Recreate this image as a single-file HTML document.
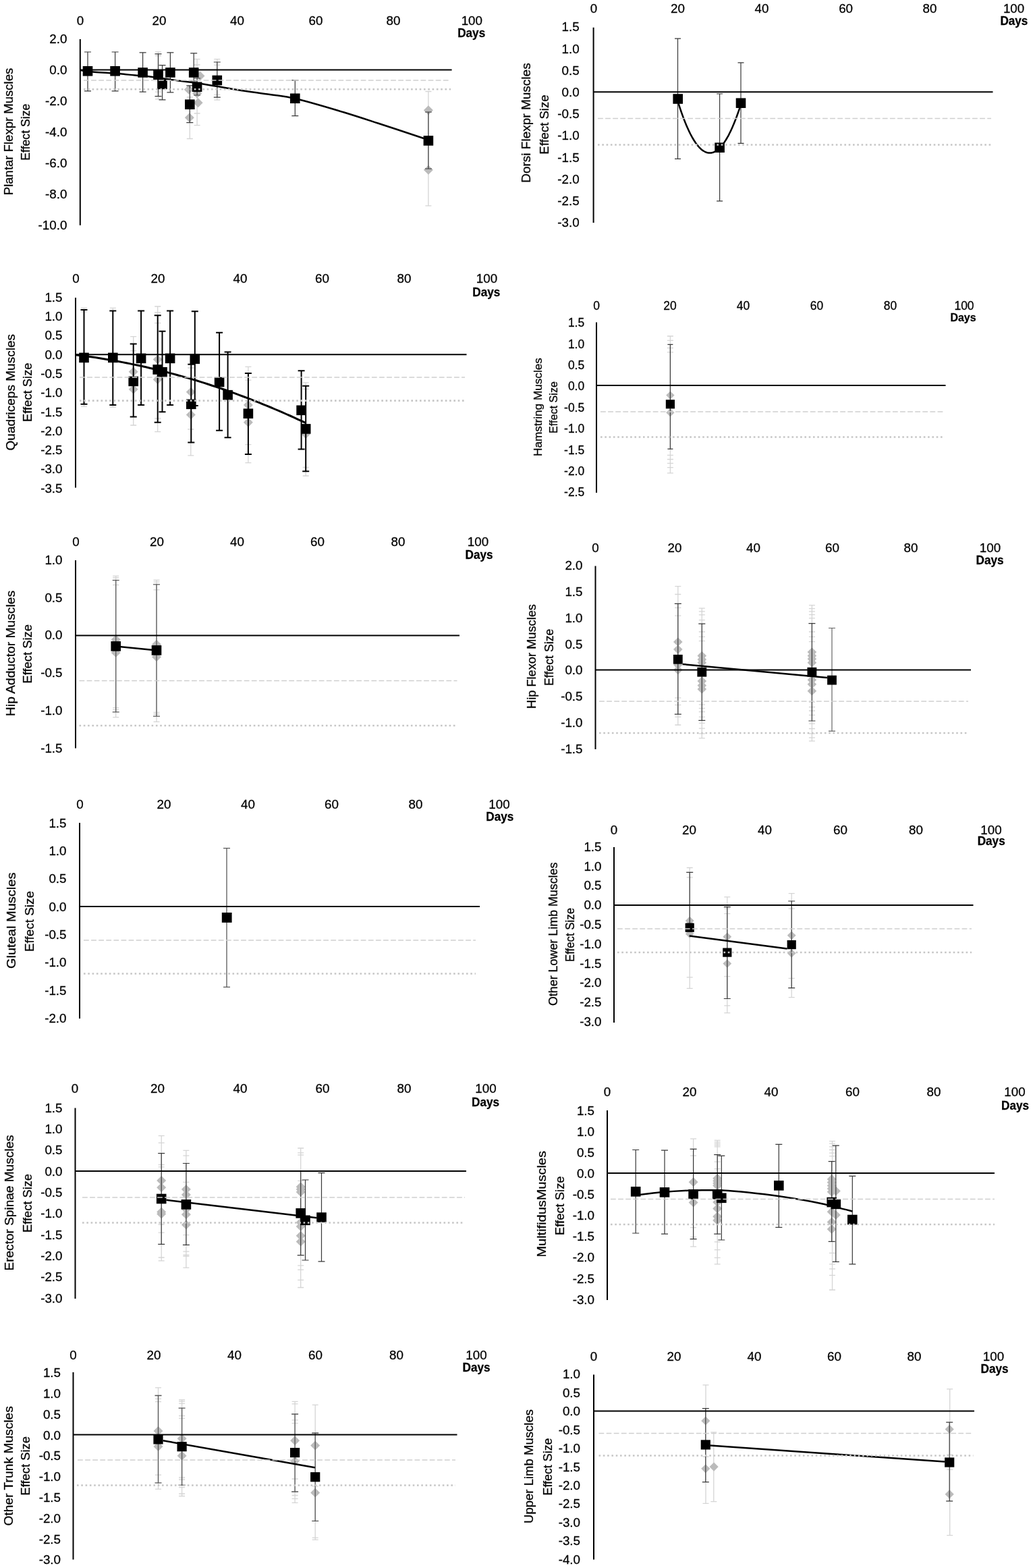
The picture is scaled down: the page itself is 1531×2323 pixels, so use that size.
<!DOCTYPE html>
<html><head><meta charset="utf-8"><title>Effect size over days</title>
<style>html,body{margin:0;padding:0;background:#fff;}svg{display:block;} text{stroke:#000;stroke-width:0.28px;paint-order:stroke;}</style></head>
<body><svg width="1531" height="2323" viewBox="0 0 1531 2323" font-family="'Liberation Sans', Arial, sans-serif" fill="#000">
<rect width="1531" height="2323" fill="#fff"/>
<text x="119.0" y="37.4" text-anchor="middle" font-size="18.80">0</text>
<text x="236.0" y="37.4" text-anchor="middle" font-size="18.80">20</text>
<text x="351.5" y="37.4" text-anchor="middle" font-size="18.80">40</text>
<text x="468.0" y="37.4" text-anchor="middle" font-size="18.80">60</text>
<text x="583.0" y="37.4" text-anchor="middle" font-size="18.80">80</text>
<text x="699.3" y="37.4" text-anchor="middle" font-size="18.80">100</text>
<text x="698.7" y="54.5" text-anchor="middle" font-size="18.00" font-weight="bold" textLength="41.0" lengthAdjust="spacingAndGlyphs">Days</text>
<text x="99.4" y="63.5" text-anchor="end" font-size="18.80">2.0</text>
<text x="99.4" y="109.5" text-anchor="end" font-size="18.80">0.0</text>
<text x="99.4" y="155.5" text-anchor="end" font-size="18.80">-2.0</text>
<text x="99.4" y="201.5" text-anchor="end" font-size="18.80">-4.0</text>
<text x="99.4" y="247.5" text-anchor="end" font-size="18.80">-6.0</text>
<text x="99.4" y="293.5" text-anchor="end" font-size="18.80">-8.0</text>
<text x="99.4" y="339.5" text-anchor="end" font-size="18.80">-10.0</text>
<text transform="translate(19.0,195.0) rotate(-90)" text-anchor="middle" font-size="18.30" textLength="188.4" lengthAdjust="spacingAndGlyphs">Plantar Flexpr Muscles</text>
<text transform="translate(44.3,195.7) rotate(-90)" text-anchor="middle" font-size="18.30" textLength="84.0" lengthAdjust="spacingAndGlyphs">Effect Size</text>
<path d="M234.5 76.9V146.9M230.0 76.9h9M230.0 146.9h9M230.0 82.7h9M230.0 136.1h9" stroke="#d5d5d5" stroke-width="1.3" fill="none"/>
<path d="M292.1 87.6V185.6M287.6 87.6h9M287.6 185.6h9M287.6 96.0h9M287.6 168.0h9" stroke="#d5d5d5" stroke-width="1.3" fill="none"/>
<path d="M321.8 87.6V148.1M317.3 87.6h9M317.3 148.1h9M317.3 96.3h9M317.3 140.3h9" stroke="#d5d5d5" stroke-width="1.3" fill="none"/>
<path d="M281.3 144.0V205.5M276.8 144.0h9M276.8 205.5h9" stroke="#d5d5d5" stroke-width="1.3" fill="none"/>
<path d="M634.9 135.5V304.8M630.4 135.5h9M630.4 304.8h9" stroke="#d5d5d5" stroke-width="1.3" fill="none"/>
<path d="M279.8 125.7L286.8 132.7L279.8 139.7L272.8 132.7Z" fill="#bbbbbb"/>
<path d="M280.8 167.3L287.8 174.3L280.8 181.3L273.8 174.3Z" fill="#bbbbbb"/>
<path d="M296.5 105.6L303.5 112.6L296.5 119.6L289.5 112.6Z" fill="#bbbbbb"/>
<path d="M292.1 131.6L299.1 138.6L292.1 145.6L285.1 138.6Z" fill="#bbbbbb"/>
<path d="M293.6 145.3L300.6 152.3L293.6 159.3L286.6 152.3Z" fill="#bbbbbb"/>
<path d="M634.9 156.2L641.9 163.2L634.9 170.2L627.9 163.2Z" fill="#bbbbbb"/>
<path d="M634.9 244.7L641.9 251.7L634.9 258.7L627.9 251.7Z" fill="#bbbbbb"/>
<path d="M130.0 77.0V134.9M125.0 77.0h10M125.0 134.9h10" stroke="#383838" stroke-width="1.2" fill="none"/>
<path d="M170.6 77.0V134.9M165.6 77.0h10M165.6 134.9h10" stroke="#383838" stroke-width="1.2" fill="none"/>
<path d="M211.6 77.8V136.1M206.6 77.8h10M206.6 136.1h10" stroke="#383838" stroke-width="1.2" fill="none"/>
<path d="M234.5 79.8V142.7M229.5 79.8h10M229.5 142.7h10" stroke="#383838" stroke-width="1.2" fill="none"/>
<path d="M240.5 96.6V147.9M235.5 96.6h10M235.5 147.9h10" stroke="#383838" stroke-width="1.2" fill="none"/>
<path d="M252.4 77.8V136.8M247.4 77.8h10M247.4 136.8h10" stroke="#383838" stroke-width="1.2" fill="none"/>
<path d="M287.2 78.8V120.0M282.2 78.8h10M282.2 120.0h10" stroke="#383838" stroke-width="1.2" fill="none"/>
<path d="M292.1 116.0V141.0M287.1 116.0h10M287.1 141.0h10" stroke="#383838" stroke-width="1.2" fill="none"/>
<path d="M281.3 126.8V181.7M276.3 126.8h10M276.3 181.7h10" stroke="#383838" stroke-width="1.2" fill="none"/>
<path d="M321.8 92.0V144.2M316.8 92.0h10M316.8 144.2h10" stroke="#383838" stroke-width="1.2" fill="none"/>
<path d="M437.3 118.9V171.7M432.3 118.9h10M432.3 171.7h10" stroke="#383838" stroke-width="1.2" fill="none"/>
<path d="M634.9 166.0V250.0M629.9 166.0h10M629.9 250.0h10" stroke="#383838" stroke-width="1.2" fill="none"/>
<path d="M119.0 104.0 C122.1 104.4 130.7 105.9 137.5 106.6 C144.3 107.3 153.2 107.5 160.0 108.0 C166.8 108.5 171.3 108.7 178.0 109.3 C184.7 109.9 193.0 110.9 200.0 111.6 C207.0 112.2 209.4 111.9 220.0 113.2 C230.6 114.5 250.7 117.7 263.7 119.5 C276.7 121.3 283.6 121.7 298.0 123.9 C312.4 126.1 332.9 130.0 349.9 132.7 C366.9 135.4 385.4 137.8 400.0 140.0 C414.6 142.2 420.6 142.1 437.3 146.0 C454.0 149.9 479.6 157.4 500.0 163.5 C520.5 169.6 538.7 175.6 560.0 182.5 C581.3 189.4 616.7 201.2 628.0 205.0" stroke="#000" stroke-width="2.5" fill="none" stroke-linejoin="round"/>
<rect x="122.7" y="98.0" width="14.6" height="14.6" fill="#000"/>
<rect x="163.3" y="98.0" width="14.6" height="14.6" fill="#000"/>
<rect x="204.3" y="100.2" width="14.6" height="14.6" fill="#000"/>
<rect x="227.2" y="103.4" width="14.6" height="14.6" fill="#000"/>
<rect x="233.2" y="117.6" width="14.6" height="14.6" fill="#000"/>
<rect x="245.1" y="100.2" width="14.6" height="14.6" fill="#000"/>
<rect x="279.9" y="100.2" width="14.6" height="14.6" fill="#000"/>
<rect x="284.8" y="121.5" width="14.6" height="14.6" fill="#000"/>
<rect x="274.0" y="147.4" width="14.6" height="14.6" fill="#000"/>
<rect x="314.5" y="111.7" width="14.6" height="14.6" fill="#000"/>
<rect x="430.0" y="138.5" width="14.6" height="14.6" fill="#000"/>
<rect x="627.6" y="201.1" width="14.6" height="14.6" fill="#000"/>
<path d="M124.0 119.1H667.7" stroke="#cfcfcf" stroke-width="1.5" stroke-dasharray="7.8 3.3"/>
<path d="M124.0 132.2H668.0" stroke="#c6c6c6" stroke-width="2.6" stroke-dasharray="2.6 3.7"/>
<path d="M118.8 58.0V333.8" stroke="#000" stroke-width="2"/>
<path d="M118.8 103.5H669.6" stroke="#000" stroke-width="2.1"/>
<text x="880.0" y="18.6" text-anchor="middle" font-size="18.80">0</text>
<text x="1004.5" y="18.6" text-anchor="middle" font-size="18.80">20</text>
<text x="1129.0" y="18.6" text-anchor="middle" font-size="18.80">40</text>
<text x="1253.6" y="18.6" text-anchor="middle" font-size="18.80">60</text>
<text x="1378.0" y="18.6" text-anchor="middle" font-size="18.80">80</text>
<text x="1502.6" y="18.6" text-anchor="middle" font-size="18.80">100</text>
<text x="1502.9" y="37.2" text-anchor="middle" font-size="18.00" font-weight="bold" textLength="41.0" lengthAdjust="spacingAndGlyphs">Days</text>
<text x="858.6" y="46.3" text-anchor="end" font-size="18.80">1.5</text>
<text x="858.6" y="78.5" text-anchor="end" font-size="18.80">1.0</text>
<text x="858.6" y="110.7" text-anchor="end" font-size="18.80">0.5</text>
<text x="858.6" y="142.9" text-anchor="end" font-size="18.80">0.0</text>
<text x="858.6" y="175.1" text-anchor="end" font-size="18.80">-0.5</text>
<text x="858.6" y="207.3" text-anchor="end" font-size="18.80">-1.0</text>
<text x="858.6" y="239.5" text-anchor="end" font-size="18.80">-1.5</text>
<text x="858.6" y="271.7" text-anchor="end" font-size="18.80">-2.0</text>
<text x="858.6" y="303.9" text-anchor="end" font-size="18.80">-2.5</text>
<text x="858.6" y="336.1" text-anchor="end" font-size="18.80">-3.0</text>
<text transform="translate(786.0,182.1) rotate(-90)" text-anchor="middle" font-size="18.30" textLength="177.5" lengthAdjust="spacingAndGlyphs">Dorsi Flexpr Muscles</text>
<text transform="translate(812.6,184.6) rotate(-90)" text-anchor="middle" font-size="18.30" textLength="88.3" lengthAdjust="spacingAndGlyphs">Effect Size</text>
<path d="M1004.5 57.2V235.4M1000.0 57.2h9M1000.0 235.4h9" stroke="#383838" stroke-width="1.2" fill="none"/>
<path d="M1066.6 139.0V297.9M1062.1 139.0h9M1062.1 297.9h9" stroke="#383838" stroke-width="1.2" fill="none"/>
<path d="M1098.0 92.9V212.4M1093.5 92.9h9M1093.5 212.4h9" stroke="#383838" stroke-width="1.2" fill="none"/>
<path d="M1005.5 153.1 L1006.4 155.9 L1007.3 158.7 L1008.2 161.4 L1009.1 164.0 L1010.0 166.6 L1010.9 169.2 L1011.8 171.7 L1012.7 174.1 L1013.6 176.5 L1014.5 178.8 L1015.4 181.1 L1016.3 183.3 L1017.2 185.4 L1018.1 187.5 L1019.0 189.6 L1019.9 191.6 L1020.8 193.5 L1021.7 195.4 L1022.6 197.2 L1023.5 199.0 L1024.4 200.7 L1025.3 202.4 L1026.2 204.0 L1027.1 205.5 L1028.0 207.0 L1028.9 208.5 L1029.8 209.8 L1030.7 211.2 L1031.6 212.5 L1032.5 213.7 L1033.4 214.8 L1034.3 215.9 L1035.2 217.0 L1036.1 218.0 L1037.0 218.9 L1037.9 219.8 L1038.8 220.7 L1039.7 221.5 L1040.6 222.2 L1041.5 222.9 L1042.4 223.5 L1043.3 224.0 L1044.2 224.5 L1045.1 225.0 L1046.0 225.4 L1046.9 225.7 L1047.8 226.0 L1048.7 226.2 L1049.6 226.4 L1050.5 226.5 L1051.4 226.6 L1052.3 226.6 L1053.2 226.6 L1054.1 226.5 L1055.0 226.3 L1055.9 226.1 L1056.8 225.8 L1057.7 225.5 L1058.6 225.1 L1059.5 224.7 L1060.4 224.2 L1061.3 223.7 L1062.2 223.1 L1063.1 222.4 L1064.0 221.7 L1064.9 220.9 L1065.8 220.1 L1066.7 219.3 L1067.6 218.3 L1068.5 217.3 L1069.4 216.3 L1070.3 215.2 L1071.2 214.1 L1072.1 212.9 L1073.0 211.6 L1073.9 210.3 L1074.8 208.9 L1075.7 207.5 L1076.6 206.0 L1077.5 204.5 L1078.4 202.9 L1079.3 201.3 L1080.2 199.6 L1081.1 197.8 L1082.0 196.0 L1082.9 194.1 L1083.8 192.2 L1084.7 190.2 L1085.6 188.2 L1086.5 186.1 L1087.4 184.0 L1088.3 181.8 L1089.2 179.5 L1090.1 177.2 L1091.0 174.9 L1091.9 172.5 L1092.8 170.0 L1093.7 167.5 L1094.6 164.9 L1095.5 162.3 L1096.4 159.6 L1097.3 156.8" stroke="#000" stroke-width="2.5" fill="none" stroke-linejoin="round"/>
<rect x="997.4" y="139.2" width="14.6" height="14.6" fill="#000"/>
<rect x="1059.3" y="211.4" width="14.6" height="14.6" fill="#000"/>
<rect x="1090.7" y="145.4" width="14.6" height="14.6" fill="#000"/>
<path d="M886.0 175.5H1469.0" stroke="#cfcfcf" stroke-width="1.5" stroke-dasharray="7.8 3.3"/>
<path d="M886.0 214.5H1469.0" stroke="#c6c6c6" stroke-width="2.6" stroke-dasharray="2.6 3.7"/>
<path d="M879.6 40.8V330.0" stroke="#000" stroke-width="2"/>
<path d="M879.6 136.3H1471.5" stroke="#000" stroke-width="2.1"/>
<text x="112.5" y="419.2" text-anchor="middle" font-size="18.80">0</text>
<text x="234.0" y="419.2" text-anchor="middle" font-size="18.80">20</text>
<text x="356.0" y="419.2" text-anchor="middle" font-size="18.80">40</text>
<text x="477.5" y="419.2" text-anchor="middle" font-size="18.80">60</text>
<text x="599.0" y="419.2" text-anchor="middle" font-size="18.80">80</text>
<text x="721.5" y="419.2" text-anchor="middle" font-size="18.80">100</text>
<text x="720.8" y="438.9" text-anchor="middle" font-size="18.00" font-weight="bold" textLength="41.0" lengthAdjust="spacingAndGlyphs">Days</text>
<text x="92.5" y="446.7" text-anchor="end" font-size="18.80">1.5</text>
<text x="92.5" y="475.0" text-anchor="end" font-size="18.80">1.0</text>
<text x="92.5" y="503.3" text-anchor="end" font-size="18.80">0.5</text>
<text x="92.5" y="531.6" text-anchor="end" font-size="18.80">0.0</text>
<text x="92.5" y="559.9" text-anchor="end" font-size="18.80">-0.5</text>
<text x="92.5" y="588.2" text-anchor="end" font-size="18.80">-1.0</text>
<text x="92.5" y="616.5" text-anchor="end" font-size="18.80">-1.5</text>
<text x="92.5" y="644.8" text-anchor="end" font-size="18.80">-2.0</text>
<text x="92.5" y="673.1" text-anchor="end" font-size="18.80">-2.5</text>
<text x="92.5" y="701.4" text-anchor="end" font-size="18.80">-3.0</text>
<text x="92.5" y="729.7" text-anchor="end" font-size="18.80">-3.5</text>
<text transform="translate(22.0,581.2) rotate(-90)" text-anchor="middle" font-size="18.30" textLength="172.5" lengthAdjust="spacingAndGlyphs">Quadriceps Muscles</text>
<text transform="translate(46.5,581.2) rotate(-90)" text-anchor="middle" font-size="18.30" textLength="87.5" lengthAdjust="spacingAndGlyphs">Effect Size</text>
<path d="M124.5 456.4V602.3M120.0 456.4h9M120.0 602.3h9M120.0 461.7h9" stroke="#d5d5d5" stroke-width="1.3" fill="none"/>
<path d="M167.3 456.4V603.0M162.8 456.4h9M162.8 603.0h9" stroke="#d5d5d5" stroke-width="1.3" fill="none"/>
<path d="M197.7 498.7V630.0M193.2 498.7h9M193.2 630.0h9M193.2 519.7h9" stroke="#d5d5d5" stroke-width="1.3" fill="none"/>
<path d="M233.7 454.0V639.7M229.2 454.0h9M229.2 639.7h9M229.2 463.0h9M229.2 478.7h9M229.2 620.0h9" stroke="#d5d5d5" stroke-width="1.3" fill="none"/>
<path d="M282.8 545.0V674.8M278.3 545.0h9M278.3 674.8h9M278.3 636.0h9" stroke="#d5d5d5" stroke-width="1.3" fill="none"/>
<path d="M367.9 543.4V685.7M363.4 543.4h9M363.4 685.7h9M363.4 563.2h9M363.4 658.6h9" stroke="#d5d5d5" stroke-width="1.3" fill="none"/>
<path d="M453.2 566.9V705.0M448.7 566.9h9M448.7 705.0h9M448.7 576.5h9M448.7 692.4h9" stroke="#d5d5d5" stroke-width="1.3" fill="none"/>
<path d="M197.7 543.7L204.7 550.7L197.7 557.7L190.7 550.7Z" fill="#bbbbbb"/>
<path d="M197.7 569.7L204.7 576.7L197.7 583.7L190.7 576.7Z" fill="#bbbbbb"/>
<path d="M233.7 525.6L240.7 532.6L233.7 539.6L226.7 532.6Z" fill="#bbbbbb"/>
<path d="M233.7 555.2L240.7 562.2L233.7 569.2L226.7 562.2Z" fill="#bbbbbb"/>
<path d="M282.8 573.7L289.8 580.7L282.8 587.7L275.8 580.7Z" fill="#bbbbbb"/>
<path d="M282.8 607.4L289.8 614.4L282.8 621.4L275.8 614.4Z" fill="#bbbbbb"/>
<path d="M367.9 593.0L374.9 600.0L367.9 607.0L360.9 600.0Z" fill="#bbbbbb"/>
<path d="M367.9 618.7L374.9 625.7L367.9 632.7L360.9 625.7Z" fill="#bbbbbb"/>
<path d="M453.2 636.0L460.2 643.0L453.2 650.0L446.2 643.0Z" fill="#bbbbbb"/>
<path d="M124.5 458.9V598.7M119.5 458.9h10M119.5 598.7h10" stroke="#000" stroke-width="2" fill="none"/>
<path d="M167.3 460.5V599.9M162.3 460.5h10M162.3 599.9h10" stroke="#000" stroke-width="2" fill="none"/>
<path d="M197.7 509.4V617.5M192.7 509.4h10M192.7 617.5h10" stroke="#000" stroke-width="2" fill="none"/>
<path d="M209.1 460.5V599.9M204.1 460.5h10M204.1 599.9h10" stroke="#000" stroke-width="2" fill="none"/>
<path d="M233.7 467.3V625.7M228.7 467.3h10M228.7 625.7h10" stroke="#000" stroke-width="2" fill="none"/>
<path d="M240.5 490.7V610.3M235.5 490.7h10M235.5 610.3h10" stroke="#000" stroke-width="2" fill="none"/>
<path d="M252.1 460.5V599.9M247.1 460.5h10M247.1 599.9h10" stroke="#000" stroke-width="2" fill="none"/>
<path d="M283.3 539.8V655.5M278.3 539.8h10M278.3 655.5h10" stroke="#000" stroke-width="2" fill="none"/>
<path d="M288.8 461.3V601.0M283.8 461.3h10M283.8 601.0h10" stroke="#000" stroke-width="2" fill="none"/>
<path d="M325.1 492.7V637.8M320.1 492.7h10M320.1 637.8h10" stroke="#000" stroke-width="2" fill="none"/>
<path d="M337.6 521.4V648.2M332.6 521.4h10M332.6 648.2h10" stroke="#000" stroke-width="2" fill="none"/>
<path d="M367.9 552.9V672.9M362.9 552.9h10M362.9 672.9h10" stroke="#000" stroke-width="2" fill="none"/>
<path d="M446.6 549.2V665.6M441.6 549.2h10M441.6 665.6h10" stroke="#000" stroke-width="2" fill="none"/>
<path d="M453.2 571.7V698.2M448.2 571.7h10M448.2 698.2h10" stroke="#000" stroke-width="2" fill="none"/>
<path d="M112.0 525.7 L117.8 526.4 L123.6 527.2 L129.3 528.0 L135.1 528.8 L140.9 529.6 L146.7 530.5 L152.5 531.5 L158.3 532.4 L164.0 533.4 L169.8 534.4 L175.6 535.5 L181.4 536.6 L187.2 537.7 L193.0 538.9 L198.7 540.1 L204.5 541.3 L210.3 542.5 L216.1 543.8 L221.9 545.2 L227.7 546.5 L233.4 547.9 L239.2 549.4 L245.0 550.8 L250.8 552.4 L256.6 553.9 L262.4 555.5 L268.1 557.1 L273.9 558.7 L279.7 560.4 L285.5 562.1 L291.3 563.8 L297.1 565.6 L302.8 567.4 L308.6 569.3 L314.4 571.2 L320.2 573.1 L326.0 575.0 L331.8 577.0 L337.5 579.0 L343.3 581.1 L349.1 583.2 L354.9 585.3 L360.7 587.5 L366.5 589.7 L372.2 591.9 L378.0 594.1 L383.8 596.4 L389.6 598.8 L395.4 601.1 L401.2 603.5 L406.9 606.0 L412.7 608.4 L418.5 610.9 L424.3 613.5 L430.1 616.0 L435.9 618.6 L441.6 621.3 L447.4 623.9 L453.2 626.6" stroke="#000" stroke-width="3.0" fill="none" stroke-linejoin="round"/>
<rect x="117.2" y="522.6" width="14.6" height="14.6" fill="#000"/>
<rect x="160.0" y="522.6" width="14.6" height="14.6" fill="#000"/>
<rect x="190.4" y="557.6" width="14.6" height="14.6" fill="#000"/>
<rect x="201.8" y="523.6" width="14.6" height="14.6" fill="#000"/>
<rect x="226.4" y="540.2" width="14.6" height="14.6" fill="#000"/>
<rect x="233.2" y="543.9" width="14.6" height="14.6" fill="#000"/>
<rect x="244.8" y="523.6" width="14.6" height="14.6" fill="#000"/>
<rect x="276.0" y="591.5" width="14.6" height="14.6" fill="#000"/>
<rect x="281.5" y="524.5" width="14.6" height="14.6" fill="#000"/>
<rect x="317.8" y="558.7" width="14.6" height="14.6" fill="#000"/>
<rect x="330.3" y="577.9" width="14.6" height="14.6" fill="#000"/>
<rect x="360.6" y="605.4" width="14.6" height="14.6" fill="#000"/>
<rect x="439.3" y="600.5" width="14.6" height="14.6" fill="#000"/>
<rect x="445.9" y="628.1" width="14.6" height="14.6" fill="#000"/>
<path d="M118.0 558.9H689.0" stroke="#cfcfcf" stroke-width="1.5" stroke-dasharray="7.8 3.3"/>
<path d="M118.0 593.6H689.0" stroke="#c6c6c6" stroke-width="2.6" stroke-dasharray="2.6 3.7"/>
<path d="M112.0 441.0V722.5" stroke="#000" stroke-width="2"/>
<path d="M112.0 525.3H691.5" stroke="#000" stroke-width="2.1"/>
<text x="884.0" y="459.1" text-anchor="middle" font-size="17.48">0</text>
<text x="993.0" y="459.1" text-anchor="middle" font-size="17.48">20</text>
<text x="1101.5" y="459.1" text-anchor="middle" font-size="17.48">40</text>
<text x="1210.5" y="459.1" text-anchor="middle" font-size="17.48">60</text>
<text x="1319.5" y="459.1" text-anchor="middle" font-size="17.48">80</text>
<text x="1429.0" y="459.1" text-anchor="middle" font-size="17.48">100</text>
<text x="1427.5" y="476.0" text-anchor="middle" font-size="16.74" font-weight="bold" textLength="38.1" lengthAdjust="spacingAndGlyphs">Days</text>
<text x="866.2" y="484.1" text-anchor="end" font-size="17.48">1.5</text>
<text x="866.2" y="515.5" text-anchor="end" font-size="17.48">1.0</text>
<text x="866.2" y="546.9" text-anchor="end" font-size="17.48">0.5</text>
<text x="866.2" y="578.3" text-anchor="end" font-size="17.48">0.0</text>
<text x="866.2" y="609.7" text-anchor="end" font-size="17.48">-0.5</text>
<text x="866.2" y="641.1" text-anchor="end" font-size="17.48">-1.0</text>
<text x="866.2" y="672.5" text-anchor="end" font-size="17.48">-1.5</text>
<text x="866.2" y="703.9" text-anchor="end" font-size="17.48">-2.0</text>
<text x="866.2" y="735.3" text-anchor="end" font-size="17.48">-2.5</text>
<text transform="translate(802.7,603.1) rotate(-90)" text-anchor="middle" font-size="17.02" textLength="145.8" lengthAdjust="spacingAndGlyphs">Hamstring Muscles</text>
<text transform="translate(825.8,603.5) rotate(-90)" text-anchor="middle" font-size="17.02" textLength="76.9" lengthAdjust="spacingAndGlyphs">Effect Size</text>
<path d="M993.4 498.0V700.8M988.9 498.0h9M988.9 700.8h9M988.9 504.4h9M988.9 515.5h9M988.9 521.8h9M988.9 674.4h9M988.9 680.5h9M988.9 686.4h9M988.9 692.7h9" stroke="#d5d5d5" stroke-width="1.3" fill="none"/>
<path d="M993.4 579.4L999.6 585.6L993.4 591.8L987.2 585.6Z" fill="#bbbbbb"/>
<path d="M993.4 605.1L999.6 611.3L993.4 617.5L987.2 611.3Z" fill="#bbbbbb"/>
<path d="M993.4 510.3V665.2M989.4 510.3h8M989.4 665.2h8" stroke="#383838" stroke-width="1.2" fill="none"/>
<rect x="986.8" y="592.2" width="13.2" height="13.2" fill="#000"/>
<path d="M890.0 610.0H1397.5" stroke="#cfcfcf" stroke-width="1.5" stroke-dasharray="7.8 3.3"/>
<path d="M890.0 647.5H1397.5" stroke="#c6c6c6" stroke-width="2.6" stroke-dasharray="2.6 3.7"/>
<path d="M884.0 477.5V730.0" stroke="#000" stroke-width="2"/>
<path d="M884.0 571.0H1401.5" stroke="#000" stroke-width="2.1"/>
<text x="112.5" y="809.2" text-anchor="middle" font-size="18.80">0</text>
<text x="232.5" y="809.2" text-anchor="middle" font-size="18.80">20</text>
<text x="351.5" y="809.2" text-anchor="middle" font-size="18.80">40</text>
<text x="470.5" y="809.2" text-anchor="middle" font-size="18.80">60</text>
<text x="590.0" y="809.2" text-anchor="middle" font-size="18.80">80</text>
<text x="708.5" y="809.2" text-anchor="middle" font-size="18.80">100</text>
<text x="710.0" y="827.9" text-anchor="middle" font-size="18.00" font-weight="bold" textLength="41.0" lengthAdjust="spacingAndGlyphs">Days</text>
<text x="92.5" y="835.7" text-anchor="end" font-size="18.80">1.0</text>
<text x="92.5" y="891.5" text-anchor="end" font-size="18.80">0.5</text>
<text x="92.5" y="947.3" text-anchor="end" font-size="18.80">0.0</text>
<text x="92.5" y="1003.1" text-anchor="end" font-size="18.80">-0.5</text>
<text x="92.5" y="1058.9" text-anchor="end" font-size="18.80">-1.0</text>
<text x="92.5" y="1114.7" text-anchor="end" font-size="18.80">-1.5</text>
<text transform="translate(22.0,968.0) rotate(-90)" text-anchor="middle" font-size="18.30" textLength="186.0" lengthAdjust="spacingAndGlyphs">Hip Adductor Muscles</text>
<text transform="translate(46.5,968.8) rotate(-90)" text-anchor="middle" font-size="18.30" textLength="87.5" lengthAdjust="spacingAndGlyphs">Effect Size</text>
<path d="M171.7 853.4V1062.6M167.2 853.4h9M167.2 1062.6h9M167.2 856.0h9M167.2 866.7h9M167.2 1048.7h9M167.2 1051.3h9" stroke="#d5d5d5" stroke-width="1.3" fill="none"/>
<path d="M232.0 859.4V1069.3M227.5 859.4h9M227.5 1069.3h9M227.5 862.2h9M227.5 873.9h9M227.5 1055.4h9M227.5 1058.0h9" stroke="#d5d5d5" stroke-width="1.3" fill="none"/>
<path d="M171.7 940.4L178.7 947.4L171.7 954.4L164.7 947.4Z" fill="#bbbbbb"/>
<path d="M171.7 960.1L178.7 967.1L171.7 974.1L164.7 967.1Z" fill="#bbbbbb"/>
<path d="M232.0 947.7L239.0 954.7L232.0 961.7L225.0 954.7Z" fill="#bbbbbb"/>
<path d="M232.0 966.3L239.0 973.3L232.0 980.3L225.0 973.3Z" fill="#bbbbbb"/>
<path d="M171.7 859.6V1054.9M166.7 859.6h10M166.7 1054.9h10" stroke="#5a5a5a" stroke-width="1.3" fill="none"/>
<path d="M232.0 865.8V1061.1M227.0 865.8h10M227.0 1061.1h10" stroke="#5a5a5a" stroke-width="1.3" fill="none"/>
<path d="M171.7 957.4 L232.0 963.4" stroke="#000" stroke-width="2.5" fill="none" stroke-linejoin="round"/>
<rect x="164.4" y="950.1" width="14.6" height="14.6" fill="#000"/>
<rect x="224.7" y="956.1" width="14.6" height="14.6" fill="#000"/>
<path d="M117.5 1008.5H677.5" stroke="#cfcfcf" stroke-width="1.5" stroke-dasharray="7.8 3.3"/>
<path d="M117.5 1075.0H677.5" stroke="#c6c6c6" stroke-width="2.6" stroke-dasharray="2.6 3.7"/>
<path d="M112.0 830.0V1108.5" stroke="#000" stroke-width="2"/>
<path d="M112.0 941.5H681.0" stroke="#000" stroke-width="2.1"/>
<text x="882.5" y="818.2" text-anchor="middle" font-size="18.80">0</text>
<text x="1000.0" y="818.2" text-anchor="middle" font-size="18.80">20</text>
<text x="1116.5" y="818.2" text-anchor="middle" font-size="18.80">40</text>
<text x="1233.5" y="818.2" text-anchor="middle" font-size="18.80">60</text>
<text x="1350.0" y="818.2" text-anchor="middle" font-size="18.80">80</text>
<text x="1467.5" y="818.2" text-anchor="middle" font-size="18.80">100</text>
<text x="1467.0" y="836.4" text-anchor="middle" font-size="18.00" font-weight="bold" textLength="41.0" lengthAdjust="spacingAndGlyphs">Days</text>
<text x="863.5" y="844.2" text-anchor="end" font-size="18.80">2.0</text>
<text x="863.5" y="883.0" text-anchor="end" font-size="18.80">1.5</text>
<text x="863.5" y="921.8" text-anchor="end" font-size="18.80">1.0</text>
<text x="863.5" y="960.6" text-anchor="end" font-size="18.80">0.5</text>
<text x="863.5" y="999.4" text-anchor="end" font-size="18.80">0.0</text>
<text x="863.5" y="1038.2" text-anchor="end" font-size="18.80">-0.5</text>
<text x="863.5" y="1077.0" text-anchor="end" font-size="18.80">-1.0</text>
<text x="863.5" y="1115.8" text-anchor="end" font-size="18.80">-1.5</text>
<text transform="translate(793.5,972.5) rotate(-90)" text-anchor="middle" font-size="18.30" textLength="155.0" lengthAdjust="spacingAndGlyphs">Hip Flexor Muscles</text>
<text transform="translate(820.0,973.8) rotate(-90)" text-anchor="middle" font-size="18.30" textLength="84.5" lengthAdjust="spacingAndGlyphs">Effect Size</text>
<path d="M1004.8 868.7V1074.0M1000.3 868.7h9M1000.3 1074.0h9M1000.3 880.5h9M1000.3 900.3h9M1000.3 912.2h9M1000.3 1033.8h9M1000.3 1044.4h9M1000.3 1062.1h9" stroke="#d5d5d5" stroke-width="1.3" fill="none"/>
<path d="M1040.3 901.2V1093.6M1035.8 901.2h9M1035.8 1093.6h9M1035.8 905.8h9M1035.8 910.9h9M1035.8 918.6h9M1035.8 936.0h9M1035.8 943.3h9M1035.8 949.7h9M1035.8 1043.9h9M1035.8 1049.3h9M1035.8 1054.5h9M1035.8 1062.1h9M1035.8 1071.3h9M1035.8 1079.2h9M1035.8 1086.8h9" stroke="#d5d5d5" stroke-width="1.3" fill="none"/>
<path d="M1203.4 896.6V1097.8M1198.9 896.6h9M1198.9 1097.8h9M1198.9 901.6h9M1198.9 905.8h9M1198.9 910.7h9M1198.9 915.8h9M1198.9 936.0h9M1198.9 943.3h9M1198.9 950.6h9M1198.9 1040.2h9M1198.9 1047.5h9M1198.9 1053.0h9M1198.9 1059.4h9M1198.9 1072.2h9M1198.9 1079.5h9M1198.9 1086.8h9M1198.9 1092.9h9" stroke="#d5d5d5" stroke-width="1.3" fill="none"/>
<path d="M1004.8 944.2L1011.6 951.0L1004.8 957.8L998.0 951.0Z" fill="#bbbbbb"/>
<path d="M1004.8 955.3L1011.6 962.1L1004.8 968.9L998.0 962.1Z" fill="#bbbbbb"/>
<path d="M1004.8 978.2L1011.6 985.0L1004.8 991.8L998.0 985.0Z" fill="#bbbbbb"/>
<path d="M1004.8 985.8L1011.6 992.6L1004.8 999.4L998.0 992.6Z" fill="#bbbbbb"/>
<path d="M1040.3 964.8L1047.1 971.6L1040.3 978.4L1033.5 971.6Z" fill="#bbbbbb"/>
<path d="M1040.3 970.3L1047.1 977.1L1040.3 983.9L1033.5 977.1Z" fill="#bbbbbb"/>
<path d="M1040.3 974.9L1047.1 981.7L1040.3 988.5L1033.5 981.7Z" fill="#bbbbbb"/>
<path d="M1040.3 1002.3L1047.1 1009.1L1040.3 1015.9L1033.5 1009.1Z" fill="#bbbbbb"/>
<path d="M1040.3 1008.7L1047.1 1015.5L1040.3 1022.3L1033.5 1015.5Z" fill="#bbbbbb"/>
<path d="M1040.3 1014.2L1047.1 1021.0L1040.3 1027.8L1033.5 1021.0Z" fill="#bbbbbb"/>
<path d="M1203.4 959.3L1210.2 966.1L1203.4 972.9L1196.6 966.1Z" fill="#bbbbbb"/>
<path d="M1203.4 964.8L1210.2 971.6L1203.4 978.4L1196.6 971.6Z" fill="#bbbbbb"/>
<path d="M1203.4 969.4L1210.2 976.2L1203.4 983.0L1196.6 976.2Z" fill="#bbbbbb"/>
<path d="M1203.4 974.9L1210.2 981.7L1203.4 988.5L1196.6 981.7Z" fill="#bbbbbb"/>
<path d="M1203.4 1000.5L1210.2 1007.3L1203.4 1014.1L1196.6 1007.3Z" fill="#bbbbbb"/>
<path d="M1203.4 1006.9L1210.2 1013.7L1203.4 1020.5L1196.6 1013.7Z" fill="#bbbbbb"/>
<path d="M1203.4 1016.9L1210.2 1023.7L1203.4 1030.5L1196.6 1023.7Z" fill="#bbbbbb"/>
<path d="M1004.8 894.3V1058.1M999.8 894.3h10M999.8 1058.1h10" stroke="#383838" stroke-width="1.2" fill="none"/>
<path d="M1040.3 924.1V1067.3M1035.3 924.1h10M1035.3 1067.3h10" stroke="#383838" stroke-width="1.2" fill="none"/>
<path d="M1203.4 923.7V1068.0M1198.4 923.7h10M1198.4 1068.0h10" stroke="#383838" stroke-width="1.2" fill="none"/>
<path d="M1233.0 930.5V1083.2M1228.0 930.5h10M1228.0 1083.2h10" stroke="#666" stroke-width="1.2" fill="none"/>
<path d="M1011.6 984.0 L1226.0 1004.0" stroke="#000" stroke-width="2.5" fill="none" stroke-linejoin="round"/>
<rect x="997.9" y="969.9" width="13.8" height="13.8" fill="#000"/>
<rect x="1033.4" y="988.8" width="13.8" height="13.8" fill="#000"/>
<rect x="1196.5" y="988.8" width="13.8" height="13.8" fill="#000"/>
<rect x="1226.1" y="1000.7" width="13.8" height="13.8" fill="#000"/>
<path d="M888.0 1039.0H1435.0" stroke="#cfcfcf" stroke-width="1.5" stroke-dasharray="7.8 3.3"/>
<path d="M888.0 1086.0H1435.0" stroke="#c6c6c6" stroke-width="2.6" stroke-dasharray="2.6 3.7"/>
<path d="M882.5 838.5V1110.0" stroke="#000" stroke-width="2"/>
<path d="M882.5 992.5H1439.0" stroke="#000" stroke-width="2.1"/>
<text x="118.5" y="1198.2" text-anchor="middle" font-size="18.80">0</text>
<text x="243.0" y="1198.2" text-anchor="middle" font-size="18.80">20</text>
<text x="367.5" y="1198.2" text-anchor="middle" font-size="18.80">40</text>
<text x="491.5" y="1198.2" text-anchor="middle" font-size="18.80">60</text>
<text x="616.0" y="1198.2" text-anchor="middle" font-size="18.80">80</text>
<text x="740.0" y="1198.2" text-anchor="middle" font-size="18.80">100</text>
<text x="740.8" y="1216.4" text-anchor="middle" font-size="18.00" font-weight="bold" textLength="41.0" lengthAdjust="spacingAndGlyphs">Days</text>
<text x="98.5" y="1225.7" text-anchor="end" font-size="18.80">1.5</text>
<text x="98.5" y="1267.0" text-anchor="end" font-size="18.80">1.0</text>
<text x="98.5" y="1308.3" text-anchor="end" font-size="18.80">0.5</text>
<text x="98.5" y="1349.6" text-anchor="end" font-size="18.80">0.0</text>
<text x="98.5" y="1390.9" text-anchor="end" font-size="18.80">-0.5</text>
<text x="98.5" y="1432.2" text-anchor="end" font-size="18.80">-1.0</text>
<text x="98.5" y="1473.5" text-anchor="end" font-size="18.80">-1.5</text>
<text x="98.5" y="1514.8" text-anchor="end" font-size="18.80">-2.0</text>
<text transform="translate(23.0,1363.8) rotate(-90)" text-anchor="middle" font-size="18.30" textLength="142.5" lengthAdjust="spacingAndGlyphs">Gluteal Muscles</text>
<text transform="translate(50.0,1365.0) rotate(-90)" text-anchor="middle" font-size="18.30" textLength="90.0" lengthAdjust="spacingAndGlyphs">Effect Size</text>
<path d="M336.0 1256.7V1462.3M331.0 1256.7h10M331.0 1462.3h10" stroke="#5a5a5a" stroke-width="1.3" fill="none"/>
<rect x="328.8" y="1352.0" width="14.8" height="14.8" fill="#000"/>
<path d="M124.0 1393.0H705.0" stroke="#cfcfcf" stroke-width="1.5" stroke-dasharray="7.8 3.3"/>
<path d="M124.0 1442.5H705.0" stroke="#c6c6c6" stroke-width="2.6" stroke-dasharray="2.6 3.7"/>
<path d="M118.0 1219.0V1509.0" stroke="#000" stroke-width="2"/>
<path d="M118.0 1343.0H711.0" stroke="#000" stroke-width="2.1"/>
<text x="910.0" y="1235.7" text-anchor="middle" font-size="18.80">0</text>
<text x="1021.5" y="1235.7" text-anchor="middle" font-size="18.80">20</text>
<text x="1133.5" y="1235.7" text-anchor="middle" font-size="18.80">40</text>
<text x="1245.5" y="1235.7" text-anchor="middle" font-size="18.80">60</text>
<text x="1357.5" y="1235.7" text-anchor="middle" font-size="18.80">80</text>
<text x="1469.0" y="1235.7" text-anchor="middle" font-size="18.80">100</text>
<text x="1469.2" y="1252.4" text-anchor="middle" font-size="18.00" font-weight="bold" textLength="41.0" lengthAdjust="spacingAndGlyphs">Days</text>
<text x="891.5" y="1260.7" text-anchor="end" font-size="18.80">1.5</text>
<text x="891.5" y="1289.5" text-anchor="end" font-size="18.80">1.0</text>
<text x="891.5" y="1318.3" text-anchor="end" font-size="18.80">0.5</text>
<text x="891.5" y="1347.1" text-anchor="end" font-size="18.80">0.0</text>
<text x="891.5" y="1375.9" text-anchor="end" font-size="18.80">-0.5</text>
<text x="891.5" y="1404.7" text-anchor="end" font-size="18.80">-1.0</text>
<text x="891.5" y="1433.5" text-anchor="end" font-size="18.80">-1.5</text>
<text x="891.5" y="1462.3" text-anchor="end" font-size="18.80">-2.0</text>
<text x="891.5" y="1491.1" text-anchor="end" font-size="18.80">-2.5</text>
<text x="891.5" y="1519.9" text-anchor="end" font-size="18.80">-3.0</text>
<text transform="translate(825.5,1383.8) rotate(-90)" text-anchor="middle" font-size="18.30" textLength="212.5" lengthAdjust="spacingAndGlyphs">Other Lower Limb Muscles</text>
<text transform="translate(850.5,1385.0) rotate(-90)" text-anchor="middle" font-size="18.30" textLength="80.0" lengthAdjust="spacingAndGlyphs">Effect Size</text>
<path d="M1022.2 1285.5V1464.3M1017.7 1285.5h9M1017.7 1464.3h9M1017.7 1299.9h9M1017.7 1447.9h9" stroke="#d5d5d5" stroke-width="1.3" fill="none"/>
<path d="M1077.8 1328.9V1500.6M1073.3 1328.9h9M1073.3 1500.6h9M1073.3 1346.2h9M1073.3 1353.6h9M1073.3 1446.7h9M1073.3 1489.9h9" stroke="#d5d5d5" stroke-width="1.3" fill="none"/>
<path d="M1173.2 1323.6V1477.6M1168.7 1323.6h9M1168.7 1477.6h9M1168.7 1346.2h9M1168.7 1449.3h9" stroke="#d5d5d5" stroke-width="1.3" fill="none"/>
<path d="M1022.2 1357.7L1028.6 1364.1L1022.2 1370.5L1015.8 1364.1Z" fill="#bbbbbb"/>
<path d="M1022.2 1377.1L1028.6 1383.5L1022.2 1389.9L1015.8 1383.5Z" fill="#bbbbbb"/>
<path d="M1077.8 1381.4L1084.2 1387.8L1077.8 1394.2L1071.4 1387.8Z" fill="#bbbbbb"/>
<path d="M1077.8 1421.2L1084.2 1427.6L1077.8 1434.0L1071.4 1427.6Z" fill="#bbbbbb"/>
<path d="M1173.2 1379.4L1179.6 1385.8L1173.2 1392.2L1166.8 1385.8Z" fill="#bbbbbb"/>
<path d="M1173.2 1405.9L1179.6 1412.3L1173.2 1418.7L1166.8 1412.3Z" fill="#bbbbbb"/>
<path d="M1022.2 1292.3V1368.0M1017.2 1292.3h10M1017.2 1368.0h10" stroke="#383838" stroke-width="1.2" fill="none"/>
<path d="M1077.8 1343.6V1479.5M1072.8 1343.6h10M1072.8 1479.5h10" stroke="#383838" stroke-width="1.2" fill="none"/>
<path d="M1173.2 1335.0V1463.7M1168.2 1335.0h10M1168.2 1463.7h10" stroke="#383838" stroke-width="1.2" fill="none"/>
<path d="M1021.6 1386.4 L1166.5 1405.4" stroke="#000" stroke-width="2.5" fill="none" stroke-linejoin="round"/>
<rect x="1015.6" y="1367.7" width="13.2" height="13.2" fill="#000"/>
<rect x="1071.2" y="1404.5" width="13.2" height="13.2" fill="#000"/>
<rect x="1166.6" y="1393.0" width="13.2" height="13.2" fill="#000"/>
<path d="M915.0 1376.0H1440.0" stroke="#cfcfcf" stroke-width="1.5" stroke-dasharray="7.8 3.3"/>
<path d="M915.0 1411.0H1440.0" stroke="#c6c6c6" stroke-width="2.6" stroke-dasharray="2.6 3.7"/>
<path d="M910.0 1255.0V1515.0" stroke="#000" stroke-width="2"/>
<path d="M910.0 1341.0H1442.5" stroke="#000" stroke-width="2.1"/>
<text x="111.0" y="1619.2" text-anchor="middle" font-size="18.80">0</text>
<text x="233.5" y="1619.2" text-anchor="middle" font-size="18.80">20</text>
<text x="356.0" y="1619.2" text-anchor="middle" font-size="18.80">40</text>
<text x="478.0" y="1619.2" text-anchor="middle" font-size="18.80">60</text>
<text x="599.0" y="1619.2" text-anchor="middle" font-size="18.80">80</text>
<text x="720.0" y="1619.2" text-anchor="middle" font-size="18.80">100</text>
<text x="719.5" y="1638.9" text-anchor="middle" font-size="18.00" font-weight="bold" textLength="41.0" lengthAdjust="spacingAndGlyphs">Days</text>
<text x="92.5" y="1647.7" text-anchor="end" font-size="18.80">1.5</text>
<text x="92.5" y="1679.1" text-anchor="end" font-size="18.80">1.0</text>
<text x="92.5" y="1710.4" text-anchor="end" font-size="18.80">0.5</text>
<text x="92.5" y="1741.7" text-anchor="end" font-size="18.80">0.0</text>
<text x="92.5" y="1773.1" text-anchor="end" font-size="18.80">-0.5</text>
<text x="92.5" y="1804.4" text-anchor="end" font-size="18.80">-1.0</text>
<text x="92.5" y="1835.7" text-anchor="end" font-size="18.80">-1.5</text>
<text x="92.5" y="1867.0" text-anchor="end" font-size="18.80">-2.0</text>
<text x="92.5" y="1898.4" text-anchor="end" font-size="18.80">-2.5</text>
<text x="92.5" y="1929.7" text-anchor="end" font-size="18.80">-3.0</text>
<text transform="translate(19.5,1782.0) rotate(-90)" text-anchor="middle" font-size="18.30" textLength="201.0" lengthAdjust="spacingAndGlyphs">Erector Spinae Muscles</text>
<text transform="translate(46.5,1782.5) rotate(-90)" text-anchor="middle" font-size="18.30" textLength="87.0" lengthAdjust="spacingAndGlyphs">Effect Size</text>
<path d="M239.2 1682.7V1867.9M234.7 1682.7h9M234.7 1867.9h9M234.7 1693.1h9M234.7 1725.5h9M234.7 1728.8h9M234.7 1814.0h9M234.7 1826.2h9M234.7 1863.0h9" stroke="#d5d5d5" stroke-width="1.3" fill="none"/>
<path d="M275.9 1704.3V1878.1M271.4 1704.3h9M271.4 1878.1h9M271.4 1712.1h9M271.4 1751.3h9M271.4 1829.7h9M271.4 1854.2h9M271.4 1859.1h9M271.4 1861.0h9" stroke="#d5d5d5" stroke-width="1.3" fill="none"/>
<path d="M445.7 1701.0V1907.5M441.2 1701.0h9M441.2 1907.5h9M441.2 1707.8h9M441.2 1711.2h9M441.2 1749.4h9M441.2 1874.8h9M441.2 1881.2h9M441.2 1896.3h9" stroke="#d5d5d5" stroke-width="1.3" fill="none"/>
<path d="M239.2 1742.0L246.2 1749.0L239.2 1756.0L232.2 1749.0Z" fill="#bbbbbb"/>
<path d="M239.2 1752.2L246.2 1759.2L239.2 1766.2L232.2 1759.2Z" fill="#bbbbbb"/>
<path d="M239.2 1788.4L246.2 1795.4L239.2 1802.4L232.2 1795.4Z" fill="#bbbbbb"/>
<path d="M239.2 1791.4L246.2 1798.4L239.2 1805.4L232.2 1798.4Z" fill="#bbbbbb"/>
<path d="M275.9 1755.1L282.9 1762.1L275.9 1769.1L268.9 1762.1Z" fill="#bbbbbb"/>
<path d="M275.9 1763.0L282.9 1770.0L275.9 1777.0L268.9 1770.0Z" fill="#bbbbbb"/>
<path d="M275.9 1784.5L282.9 1791.5L275.9 1798.5L268.9 1791.5Z" fill="#bbbbbb"/>
<path d="M275.9 1792.3L282.9 1799.3L275.9 1806.3L268.9 1799.3Z" fill="#bbbbbb"/>
<path d="M275.9 1807.6L282.9 1814.6L275.9 1821.6L268.9 1814.6Z" fill="#bbbbbb"/>
<path d="M445.7 1751.2L452.7 1758.2L445.7 1765.2L438.7 1758.2Z" fill="#bbbbbb"/>
<path d="M445.7 1755.1L452.7 1762.1L445.7 1769.1L438.7 1762.1Z" fill="#bbbbbb"/>
<path d="M445.7 1759.0L452.7 1766.0L445.7 1773.0L438.7 1766.0Z" fill="#bbbbbb"/>
<path d="M445.7 1804.1L452.7 1811.1L445.7 1818.1L438.7 1811.1Z" fill="#bbbbbb"/>
<path d="M445.7 1810.0L452.7 1817.0L445.7 1824.0L438.7 1817.0Z" fill="#bbbbbb"/>
<path d="M445.7 1823.7L452.7 1830.7L445.7 1837.7L438.7 1830.7Z" fill="#bbbbbb"/>
<path d="M445.7 1832.5L452.7 1839.5L445.7 1846.5L438.7 1839.5Z" fill="#bbbbbb"/>
<path d="M239.2 1708.6V1843.4M234.2 1708.6h10M234.2 1843.4h10" stroke="#383838" stroke-width="1.2" fill="none"/>
<path d="M275.9 1723.5V1844.4M270.9 1723.5h10M270.9 1844.4h10" stroke="#383838" stroke-width="1.2" fill="none"/>
<path d="M445.7 1735.5V1859.7M440.7 1735.5h10M440.7 1859.7h10" stroke="#383838" stroke-width="1.2" fill="none"/>
<path d="M452.5 1748.0V1867.0M447.5 1748.0h10M447.5 1867.0h10" stroke="#383838" stroke-width="1.2" fill="none"/>
<path d="M476.5 1737.6V1868.9M471.5 1737.6h10M471.5 1868.9h10" stroke="#383838" stroke-width="1.2" fill="none"/>
<path d="M246.4 1777.8 L469.4 1804.2" stroke="#000" stroke-width="2.5" fill="none" stroke-linejoin="round"/>
<rect x="231.9" y="1768.7" width="14.6" height="14.6" fill="#000"/>
<rect x="268.6" y="1777.1" width="14.6" height="14.6" fill="#000"/>
<rect x="438.4" y="1790.1" width="14.6" height="14.6" fill="#000"/>
<rect x="445.2" y="1800.5" width="14.6" height="14.6" fill="#000"/>
<rect x="469.2" y="1796.3" width="14.6" height="14.6" fill="#000"/>
<path d="M122.0 1774.0H689.0" stroke="#cfcfcf" stroke-width="1.5" stroke-dasharray="7.8 3.3"/>
<path d="M122.0 1811.5H689.0" stroke="#c6c6c6" stroke-width="2.6" stroke-dasharray="2.6 3.7"/>
<path d="M111.5 1641.5V1924.0" stroke="#000" stroke-width="2"/>
<path d="M111.5 1735.0H691.0" stroke="#000" stroke-width="2.1"/>
<text x="900.0" y="1624.2" text-anchor="middle" font-size="18.80">0</text>
<text x="1022.0" y="1624.2" text-anchor="middle" font-size="18.80">20</text>
<text x="1143.0" y="1624.2" text-anchor="middle" font-size="18.80">40</text>
<text x="1263.5" y="1624.2" text-anchor="middle" font-size="18.80">60</text>
<text x="1384.0" y="1624.2" text-anchor="middle" font-size="18.80">80</text>
<text x="1504.0" y="1624.2" text-anchor="middle" font-size="18.80">100</text>
<text x="1504.5" y="1643.9" text-anchor="middle" font-size="18.00" font-weight="bold" textLength="41.0" lengthAdjust="spacingAndGlyphs">Days</text>
<text x="881.0" y="1651.7" text-anchor="end" font-size="18.80">1.5</text>
<text x="881.0" y="1682.8" text-anchor="end" font-size="18.80">1.0</text>
<text x="881.0" y="1713.9" text-anchor="end" font-size="18.80">0.5</text>
<text x="881.0" y="1745.0" text-anchor="end" font-size="18.80">0.0</text>
<text x="881.0" y="1776.1" text-anchor="end" font-size="18.80">-0.5</text>
<text x="881.0" y="1807.2" text-anchor="end" font-size="18.80">-1.0</text>
<text x="881.0" y="1838.3" text-anchor="end" font-size="18.80">-1.5</text>
<text x="881.0" y="1869.4" text-anchor="end" font-size="18.80">-2.0</text>
<text x="881.0" y="1900.5" text-anchor="end" font-size="18.80">-2.5</text>
<text x="881.0" y="1931.6" text-anchor="end" font-size="18.80">-3.0</text>
<text transform="translate(808.5,1783.8) rotate(-90)" text-anchor="middle" font-size="18.30" textLength="157.5" lengthAdjust="spacingAndGlyphs">MultifidusMuscles</text>
<text transform="translate(835.5,1786.2) rotate(-90)" text-anchor="middle" font-size="18.30" textLength="87.5" lengthAdjust="spacingAndGlyphs">Effect Size</text>
<path d="M1027.6 1687.1V1846.9M1023.1 1687.1h9M1023.1 1846.9h9M1023.1 1712.2h9M1023.1 1818.7h9M1023.1 1832.8h9" stroke="#d5d5d5" stroke-width="1.3" fill="none"/>
<path d="M1063.2 1689.4V1872.8M1058.7 1689.4h9M1058.7 1872.8h9M1058.7 1691.8h9M1058.7 1694.1h9M1058.7 1696.5h9M1058.7 1698.8h9M1058.7 1721.1h9M1058.7 1731.7h9M1058.7 1839.9h9M1058.7 1851.6h9M1058.7 1863.4h9" stroke="#d5d5d5" stroke-width="1.3" fill="none"/>
<path d="M1233.5 1690.6V1911.0M1229.0 1690.6h9M1229.0 1911.0h9M1229.0 1694.1h9M1229.0 1698.8h9M1229.0 1703.5h9M1229.0 1708.2h9M1229.0 1712.9h9M1229.0 1856.3h9M1229.0 1872.8h9M1229.0 1879.9h9M1229.0 1889.3h9" stroke="#d5d5d5" stroke-width="1.3" fill="none"/>
<path d="M1027.6 1744.2L1034.6 1751.2L1027.6 1758.2L1020.6 1751.2Z" fill="#bbbbbb"/>
<path d="M1027.6 1774.6L1034.6 1781.6L1027.6 1788.6L1020.6 1781.6Z" fill="#bbbbbb"/>
<path d="M1063.2 1738.8L1070.2 1745.8L1063.2 1752.8L1056.2 1745.8Z" fill="#bbbbbb"/>
<path d="M1063.2 1742.4L1070.2 1749.4L1063.2 1756.4L1056.2 1749.4Z" fill="#bbbbbb"/>
<path d="M1063.2 1745.9L1070.2 1752.9L1063.2 1759.9L1056.2 1752.9Z" fill="#bbbbbb"/>
<path d="M1063.2 1749.4L1070.2 1756.4L1063.2 1763.4L1056.2 1756.4Z" fill="#bbbbbb"/>
<path d="M1063.2 1774.1L1070.2 1781.1L1063.2 1788.1L1056.2 1781.1Z" fill="#bbbbbb"/>
<path d="M1063.2 1783.5L1070.2 1790.5L1063.2 1797.5L1056.2 1790.5Z" fill="#bbbbbb"/>
<path d="M1063.2 1795.3L1070.2 1802.3L1063.2 1809.3L1056.2 1802.3Z" fill="#bbbbbb"/>
<path d="M1063.2 1801.1L1070.2 1808.1L1063.2 1815.1L1056.2 1808.1Z" fill="#bbbbbb"/>
<path d="M1232.7 1740.0L1239.7 1747.0L1232.7 1754.0L1225.7 1747.0Z" fill="#bbbbbb"/>
<path d="M1232.7 1744.7L1239.7 1751.7L1232.7 1758.7L1225.7 1751.7Z" fill="#bbbbbb"/>
<path d="M1232.7 1749.4L1239.7 1756.4L1232.7 1763.4L1225.7 1756.4Z" fill="#bbbbbb"/>
<path d="M1232.7 1754.1L1239.7 1761.1L1232.7 1768.1L1225.7 1761.1Z" fill="#bbbbbb"/>
<path d="M1232.7 1758.8L1239.7 1765.8L1232.7 1772.8L1225.7 1765.8Z" fill="#bbbbbb"/>
<path d="M1232.7 1788.2L1239.7 1795.2L1232.7 1802.2L1225.7 1795.2Z" fill="#bbbbbb"/>
<path d="M1232.7 1803.5L1239.7 1810.5L1232.7 1817.5L1225.7 1810.5Z" fill="#bbbbbb"/>
<path d="M1232.7 1814.1L1239.7 1821.1L1232.7 1828.1L1225.7 1821.1Z" fill="#bbbbbb"/>
<path d="M1238.8 1757.6L1245.8 1764.6L1238.8 1771.6L1231.8 1764.6Z" fill="#bbbbbb"/>
<path d="M1238.8 1792.9L1245.8 1799.9L1238.8 1806.9L1231.8 1799.9Z" fill="#bbbbbb"/>
<path d="M942.2 1703.5V1827.0M937.2 1703.5h10M937.2 1827.0h10" stroke="#383838" stroke-width="1.2" fill="none"/>
<path d="M985.0 1704.2V1828.1M980.0 1704.2h10M980.0 1828.1h10" stroke="#383838" stroke-width="1.2" fill="none"/>
<path d="M1027.6 1702.3V1835.7M1022.6 1702.3h10M1022.6 1835.7h10" stroke="#383838" stroke-width="1.2" fill="none"/>
<path d="M1063.2 1710.6V1828.1M1058.2 1710.6h10M1058.2 1828.1h10" stroke="#383838" stroke-width="1.2" fill="none"/>
<path d="M1069.3 1712.4V1837.0M1064.3 1712.4h10M1064.3 1837.0h10" stroke="#383838" stroke-width="1.2" fill="none"/>
<path d="M1154.3 1695.3V1818.3M1149.3 1695.3h10M1149.3 1818.3h10" stroke="#383838" stroke-width="1.2" fill="none"/>
<path d="M1232.7 1720.7V1839.4M1227.7 1720.7h10M1227.7 1839.4h10" stroke="#383838" stroke-width="1.2" fill="none"/>
<path d="M1238.8 1697.2V1869.3M1233.8 1697.2h10M1233.8 1869.3h10" stroke="#383838" stroke-width="1.2" fill="none"/>
<path d="M1263.3 1742.3V1872.8M1258.3 1742.3h10M1258.3 1872.8h10" stroke="#383838" stroke-width="1.2" fill="none"/>
<path d="M942.0 1770.5 C943.3 1770.4 944.0 1770.5 949.9 1769.8 C955.8 1769.1 965.9 1767.5 977.6 1766.5 C989.3 1765.5 1008.7 1764.2 1019.9 1763.7 C1031.1 1763.2 1036.6 1763.3 1045.0 1763.3 C1053.4 1763.3 1060.0 1763.0 1070.5 1763.5 C1081.0 1764.0 1094.0 1765.0 1108.1 1766.5 C1122.2 1768.0 1139.4 1770.0 1155.1 1772.2 C1170.8 1774.4 1190.4 1777.8 1202.2 1779.9 C1214.0 1782.1 1215.5 1782.7 1225.7 1785.1 C1235.9 1787.5 1257.0 1792.9 1263.3 1794.5" stroke="#000" stroke-width="2.5" fill="none" stroke-linejoin="round"/>
<rect x="934.9" y="1758.1" width="14.6" height="14.6" fill="#000"/>
<rect x="977.7" y="1759.1" width="14.6" height="14.6" fill="#000"/>
<rect x="1020.3" y="1762.1" width="14.6" height="14.6" fill="#000"/>
<rect x="1055.9" y="1762.1" width="14.6" height="14.6" fill="#000"/>
<rect x="1062.0" y="1767.5" width="14.6" height="14.6" fill="#000"/>
<rect x="1147.0" y="1749.1" width="14.6" height="14.6" fill="#000"/>
<rect x="1225.4" y="1773.8" width="14.6" height="14.6" fill="#000"/>
<rect x="1231.5" y="1776.6" width="14.6" height="14.6" fill="#000"/>
<rect x="1256.0" y="1799.7" width="14.6" height="14.6" fill="#000"/>
<path d="M905.0 1776.5H1474.0" stroke="#cfcfcf" stroke-width="1.5" stroke-dasharray="7.8 3.3"/>
<path d="M905.0 1814.0H1474.0" stroke="#c6c6c6" stroke-width="2.6" stroke-dasharray="2.6 3.7"/>
<path d="M900.0 1645.0V1926.0" stroke="#000" stroke-width="2"/>
<path d="M900.0 1738.0H1474.0" stroke="#000" stroke-width="2.1"/>
<text x="108.5" y="2013.7" text-anchor="middle" font-size="18.80">0</text>
<text x="228.0" y="2013.7" text-anchor="middle" font-size="18.80">20</text>
<text x="347.5" y="2013.7" text-anchor="middle" font-size="18.80">40</text>
<text x="467.5" y="2013.7" text-anchor="middle" font-size="18.80">60</text>
<text x="587.5" y="2013.7" text-anchor="middle" font-size="18.80">80</text>
<text x="706.0" y="2013.7" text-anchor="middle" font-size="18.80">100</text>
<text x="706.0" y="2031.9" text-anchor="middle" font-size="18.00" font-weight="bold" textLength="41.0" lengthAdjust="spacingAndGlyphs">Days</text>
<text x="90.0" y="2040.2" text-anchor="end" font-size="18.80">1.5</text>
<text x="90.0" y="2071.0" text-anchor="end" font-size="18.80">1.0</text>
<text x="90.0" y="2101.8" text-anchor="end" font-size="18.80">0.5</text>
<text x="90.0" y="2132.6" text-anchor="end" font-size="18.80">0.0</text>
<text x="90.0" y="2163.4" text-anchor="end" font-size="18.80">-0.5</text>
<text x="90.0" y="2194.1" text-anchor="end" font-size="18.80">-1.0</text>
<text x="90.0" y="2224.9" text-anchor="end" font-size="18.80">-1.5</text>
<text x="90.0" y="2255.7" text-anchor="end" font-size="18.80">-2.0</text>
<text x="90.0" y="2286.5" text-anchor="end" font-size="18.80">-2.5</text>
<text x="90.0" y="2317.3" text-anchor="end" font-size="18.80">-3.0</text>
<text transform="translate(18.5,2171.8) rotate(-90)" text-anchor="middle" font-size="18.30" textLength="177.5" lengthAdjust="spacingAndGlyphs">Other Trunk Muscles</text>
<text transform="translate(44.0,2171.8) rotate(-90)" text-anchor="middle" font-size="18.30" textLength="87.5" lengthAdjust="spacingAndGlyphs">Effect Size</text>
<path d="M234.5 2055.8V2206.1M230.0 2055.8h9M230.0 2206.1h9M230.0 2072.4h9M230.0 2076.7h9M230.0 2185.1h9" stroke="#d5d5d5" stroke-width="1.3" fill="none"/>
<path d="M269.6 2074.0V2216.5M265.1 2074.0h9M265.1 2216.5h9M265.1 2076.4h9M265.1 2079.3h9M265.1 2097.5h9M265.1 2101.4h9M265.1 2189.0h9M265.1 2192.0h9M265.1 2203.7h9M265.1 2213.0h9" stroke="#d5d5d5" stroke-width="1.3" fill="none"/>
<path d="M437.1 2076.4V2226.3M432.6 2076.4h9M432.6 2226.3h9M432.6 2079.9h9M432.6 2103.8h9M432.6 2108.7h9M432.6 2191.0h9M432.6 2215.5h9M432.6 2220.4h9" stroke="#d5d5d5" stroke-width="1.3" fill="none"/>
<path d="M467.2 2081.3V2281.1M462.7 2081.3h9M462.7 2281.1h9M462.7 2201.8h9M462.7 2278.2h9" stroke="#d5d5d5" stroke-width="1.3" fill="none"/>
<path d="M234.5 2113.1L241.5 2120.1L234.5 2127.1L227.5 2120.1Z" fill="#bbbbbb"/>
<path d="M234.5 2136.0L241.5 2143.0L234.5 2150.0L227.5 2143.0Z" fill="#bbbbbb"/>
<path d="M269.6 2124.2L276.6 2131.2L269.6 2138.2L262.6 2131.2Z" fill="#bbbbbb"/>
<path d="M269.6 2149.7L276.6 2156.7L269.6 2163.7L262.6 2156.7Z" fill="#bbbbbb"/>
<path d="M437.1 2127.2L444.1 2134.2L437.1 2141.2L430.1 2134.2Z" fill="#bbbbbb"/>
<path d="M437.1 2157.5L444.1 2164.5L437.1 2171.5L430.1 2164.5Z" fill="#bbbbbb"/>
<path d="M467.2 2134.6L474.2 2141.6L467.2 2148.6L460.2 2141.6Z" fill="#bbbbbb"/>
<path d="M467.2 2204.6L474.2 2211.6L467.2 2218.6L460.2 2211.6Z" fill="#bbbbbb"/>
<path d="M234.5 2067.5V2196.9M229.5 2067.5h10M229.5 2196.9h10" stroke="#555" stroke-width="1.3" fill="none"/>
<path d="M269.6 2086.2V2200.2M264.6 2086.2h10M264.6 2200.2h10" stroke="#555" stroke-width="1.3" fill="none"/>
<path d="M437.1 2095.0V2210.0M432.1 2095.0h10M432.1 2210.0h10" stroke="#555" stroke-width="1.3" fill="none"/>
<path d="M467.2 2123.0V2253.3M462.2 2123.0h10M462.2 2253.3h10" stroke="#555" stroke-width="1.3" fill="none"/>
<path d="M241.5 2134.2 L466.9 2174.3" stroke="#000" stroke-width="2.5" fill="none" stroke-linejoin="round"/>
<rect x="227.4" y="2125.3" width="14.2" height="14.2" fill="#000"/>
<rect x="262.5" y="2136.1" width="14.2" height="14.2" fill="#000"/>
<rect x="430.0" y="2145.0" width="14.2" height="14.2" fill="#000"/>
<rect x="460.1" y="2181.1" width="14.2" height="14.2" fill="#000"/>
<path d="M115.0 2163.0H675.0" stroke="#cfcfcf" stroke-width="1.5" stroke-dasharray="7.8 3.3"/>
<path d="M114.0 2200.5H675.0" stroke="#c6c6c6" stroke-width="2.6" stroke-dasharray="2.6 3.7"/>
<path d="M108.5 2033.0V2310.5" stroke="#000" stroke-width="2"/>
<path d="M108.5 2125.5H677.5" stroke="#000" stroke-width="2.1"/>
<text x="880.0" y="2015.7" text-anchor="middle" font-size="18.80">0</text>
<text x="999.0" y="2015.7" text-anchor="middle" font-size="18.80">20</text>
<text x="1118.0" y="2015.7" text-anchor="middle" font-size="18.80">40</text>
<text x="1236.5" y="2015.7" text-anchor="middle" font-size="18.80">60</text>
<text x="1355.0" y="2015.7" text-anchor="middle" font-size="18.80">80</text>
<text x="1472.5" y="2015.7" text-anchor="middle" font-size="18.80">100</text>
<text x="1474.0" y="2034.4" text-anchor="middle" font-size="18.00" font-weight="bold" textLength="41.0" lengthAdjust="spacingAndGlyphs">Days</text>
<text x="860.0" y="2042.2" text-anchor="end" font-size="18.80">1.0</text>
<text x="860.0" y="2069.7" text-anchor="end" font-size="18.80">0.5</text>
<text x="860.0" y="2097.1" text-anchor="end" font-size="18.80">0.0</text>
<text x="860.0" y="2124.6" text-anchor="end" font-size="18.80">-0.5</text>
<text x="860.0" y="2152.0" text-anchor="end" font-size="18.80">-1.0</text>
<text x="860.0" y="2179.5" text-anchor="end" font-size="18.80">-1.5</text>
<text x="860.0" y="2206.9" text-anchor="end" font-size="18.80">-2.0</text>
<text x="860.0" y="2234.4" text-anchor="end" font-size="18.80">-2.5</text>
<text x="860.0" y="2261.8" text-anchor="end" font-size="18.80">-3.0</text>
<text x="860.0" y="2289.3" text-anchor="end" font-size="18.80">-3.5</text>
<text x="860.0" y="2316.7" text-anchor="end" font-size="18.80">-4.0</text>
<text transform="translate(789.5,2172.5) rotate(-90)" text-anchor="middle" font-size="18.30" textLength="169.0" lengthAdjust="spacingAndGlyphs">Upper Limb Muscles</text>
<text transform="translate(817.5,2173.0) rotate(-90)" text-anchor="middle" font-size="18.30" textLength="85.0" lengthAdjust="spacingAndGlyphs">Effect Size</text>
<path d="M1046.0 2051.8V2227.4M1041.5 2051.8h9M1041.5 2227.4h9M1041.5 2123.7h9M1041.5 2158.0h9" stroke="#d5d5d5" stroke-width="1.3" fill="none"/>
<path d="M1057.8 2121.8V2224.6M1053.3 2121.8h9M1053.3 2224.6h9" stroke="#d5d5d5" stroke-width="1.3" fill="none"/>
<path d="M1407.7 2057.8V2274.6M1403.2 2057.8h9M1403.2 2274.6h9M1403.2 2155.2h9M1403.2 2177.2h9" stroke="#d5d5d5" stroke-width="1.3" fill="none"/>
<path d="M1045.8 2098.4L1052.4 2105.0L1045.8 2111.6L1039.2 2105.0Z" fill="#bbbbbb"/>
<path d="M1045.8 2169.2L1052.4 2175.8L1045.8 2182.4L1039.2 2175.8Z" fill="#bbbbbb"/>
<path d="M1058.1 2166.5L1064.7 2173.1L1058.1 2179.7L1051.5 2173.1Z" fill="#bbbbbb"/>
<path d="M1407.2 2110.8L1413.8 2117.4L1407.2 2124.0L1400.6 2117.4Z" fill="#bbbbbb"/>
<path d="M1407.2 2207.1L1413.8 2213.7L1407.2 2220.3L1400.6 2213.7Z" fill="#bbbbbb"/>
<path d="M1045.8 2086.6V2195.6M1040.8 2086.6h10M1040.8 2195.6h10" stroke="#383838" stroke-width="1.2" fill="none"/>
<path d="M1407.2 2107.2V2223.8M1402.2 2107.2h10M1402.2 2223.8h10" stroke="#383838" stroke-width="1.2" fill="none"/>
<path d="M1052.9 2141.5 L1400.0 2165.6" stroke="#000" stroke-width="2.5" fill="none" stroke-linejoin="round"/>
<rect x="1038.7" y="2133.3" width="14.2" height="14.2" fill="#000"/>
<rect x="1400.1" y="2159.4" width="14.2" height="14.2" fill="#000"/>
<path d="M887.5 2123.5H1442.5" stroke="#cfcfcf" stroke-width="1.5" stroke-dasharray="7.8 3.3"/>
<path d="M887.5 2156.5H1442.5" stroke="#c6c6c6" stroke-width="2.6" stroke-dasharray="2.6 3.7"/>
<path d="M880.0 2036.5V2310.5" stroke="#000" stroke-width="2"/>
<path d="M880.0 2090.5H1444.0" stroke="#000" stroke-width="2.1"/>
</svg></body></html>
